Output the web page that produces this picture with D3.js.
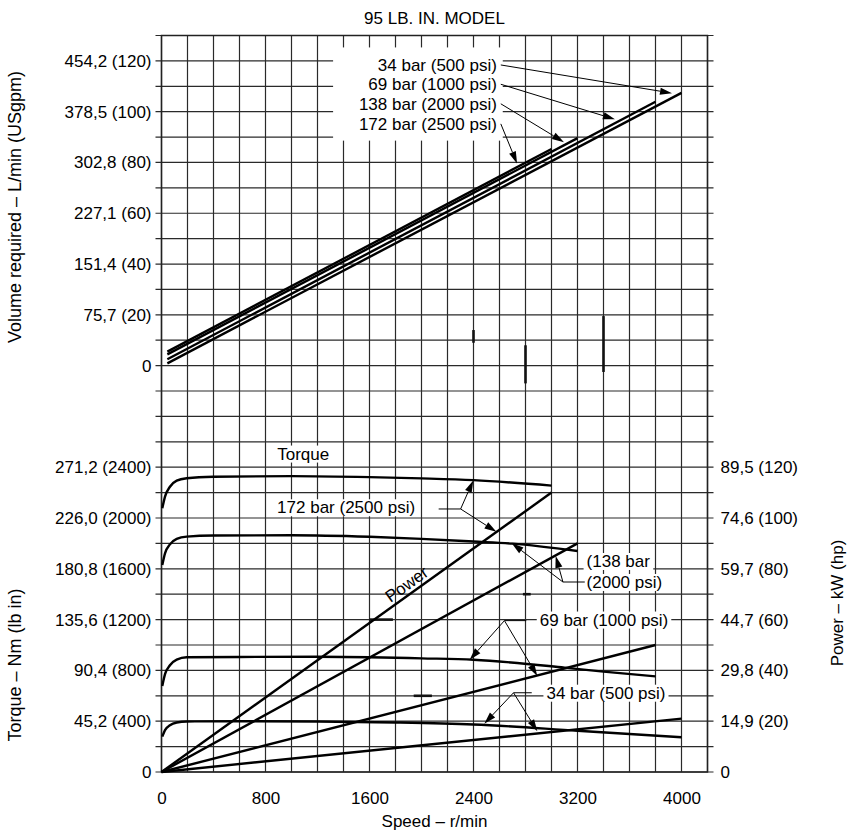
<!DOCTYPE html>
<html>
<head>
<meta charset="utf-8">
<script src="https://cdn.jsdelivr.net/npm/d3@7"></script>
<style>
  body { margin: 0; background: #fff; }
  text { font-family: "Liberation Sans", Arial, sans-serif; fill: #000; }
</style>
</head>
<body>
<svg id="chart" width="852" height="836"></svg>
<script>
// ---- data ----
const speedTicks = [0, 800, 1600, 2400, 3200, 4000];
const volTicks = [0, 20, 40, 60, 80, 100, 120];
const volLabels = ["0", "75,7 (20)", "151,4 (40)", "227,1 (60)", "302,8 (80)", "378,5 (100)", "454,2 (120)"];
const torqueTicks = [0, 400, 800, 1200, 1600, 2000, 2400];
const torqueLabels = ["0", "45,2 (400)", "90,4 (800)", "135,6 (1200)", "180,8 (1600)", "226,0 (2000)", "271,2 (2400)"];
const powerTicks = [0, 20, 40, 60, 80, 100, 120];
const powerLabels = ["0", "14,9 (20)", "29,8 (40)", "44,7 (60)", "59,7 (80)", "74,6 (100)", "89,5 (120)"];

// volume required (USgpm) vs speed (r/min)
const vol34 = [[45, 0.9], [4000, 107.4]];
const vol69 = [[45, 2.5], [3800, 103.9]];
const vol138 = [[45, 4.4], [3200, 89.6]];
const vol172 = [[45, 5.5], [3000, 85.3]];

// torque (lb in) vs speed
const tq172 = [[6, 2076], [27, 2168], [65, 2246], [117, 2294], [194, 2313], [400, 2325], [1000, 2330], [1600, 2322], [2000, 2312], [2400, 2298], [3000, 2255]];
const tq138 = [[6, 1630], [27, 1722], [65, 1792], [117, 1835], [194, 1853], [400, 1862], [1000, 1864], [1600, 1852], [2000, 1836], [2400, 1815], [2700, 1798], [3200, 1740]];
const tq69 = [[6, 677], [27, 770], [65, 840], [117, 885], [194, 903], [600, 906], [1200, 907], [1600, 904], [2000, 895], [2400, 884], [3100, 822], [3400, 790], [3800, 753]];
const tq34 = [[6, 278], [27, 330], [65, 368], [117, 390], [194, 398], [600, 400], [1200, 398], [1800, 390], [2400, 374], [3200, 325], [4000, 274]];

// power (hp) vs speed
const pw172 = [[0, 0], [3000, 110]];
const pw138 = [[0, 0], [3200, 90]];
const pw69 = [[0, 0], [3800, 50]];
const pw34 = [[0, 0], [4000, 21]];

// ---- layout ----
const svg = d3.select("#chart");
const x0 = 161.5, x1 = 707.5, yTop = 35.5, yMid = 365.6, yBot = 772;

const x = d3.scaleLinear().domain([0, 4200]).range([x0, x1]);
const yVol = d3.scaleLinear().domain([0, 130]).range([yMid, yTop]);
const yTq = d3.scaleLinear().domain([0, 3200]).range([yBot, yMid]);
const yPw = d3.scaleLinear().domain([0, 160]).range([yBot, yMid]);

// grid
const grid = svg.append("g").attr("stroke", "#2a2a2a").attr("stroke-width", 1.2);
grid.selectAll("line.v")
  .data(d3.range(0, 4201, 200))
  .enter().append("line")
    .attr("x1", d => x(d)).attr("x2", d => x(d))
    .attr("y1", yTop).attr("y2", yBot);
grid.selectAll("line.hv")
  .data(d3.range(10, 131, 10))
  .enter().append("line")
    .attr("x1", x0 - 6).attr("x2", x1 + 6)
    .attr("y1", d => yVol(d)).attr("y2", d => yVol(d));
grid.selectAll("line.ht")
  .data(d3.range(0, 3201, 200))
  .enter().append("line")
    .attr("x1", x0 - 6).attr("x2", x1 + 6)
    .attr("y1", d => yTq(d)).attr("y2", d => yTq(d));
svg.append("rect")
  .attr("x", x0).attr("y", yTop).attr("width", x1 - x0).attr("height", yBot - yTop)
  .attr("fill", "none").attr("stroke", "#222").attr("stroke-width", 1.5);

// a few heavier grid segments as in the print
const marks = svg.append("g").attr("stroke", "#111").attr("stroke-width", 2.6);
marks.append("line").attr("x1", x(2400)).attr("x2", x(2400)).attr("y1", yVol(14)).attr("y2", yVol(9));
marks.append("line").attr("x1", x(2800)).attr("x2", x(2800)).attr("y1", yVol(8)).attr("y2", yTq(3060));
marks.append("line").attr("x1", x(3400)).attr("x2", x(3400)).attr("y1", yVol(19.5)).attr("y2", yVol(-2.5));
marks.append("line").attr("x1", x(1600)).attr("x2", x(1780)).attr("y1", yTq(1200)).attr("y2", yTq(1200));
marks.append("line").attr("x1", x(1940)).attr("x2", x(2080)).attr("y1", yTq(600)).attr("y2", yTq(600));
marks.append("line").attr("x1", x(2780)).attr("x2", x(2840)).attr("y1", yTq(1400)).attr("y2", yTq(1400));

// white box behind the top label block
svg.append("rect")
  .attr("x", x(1320)).attr("y", yVol(125.3))
  .attr("width", x(2625) - x(1320)).attr("height", yVol(88.6) - yVol(125.3))
  .attr("fill", "#fff");

// label with a white halo box
function boxedText(tx, ty, str, anchor) {
  const t = svg.append("text")
    .attr("x", tx).attr("y", ty).attr("dy", "0.35em")
    .attr("font-size", 17).attr("text-anchor", anchor || "middle")
    .text(str);
  const b = t.node().getBBox();
  svg.insert("rect", "text")
    .attr("x", b.x - 3).attr("y", b.y + 1).attr("width", b.width + 6).attr("height", b.height - 2)
    .attr("fill", "#fff");
  return t;
}

// ---- curves ----
const lineVol = d3.line().x(d => x(d[0])).y(d => yVol(d[1]));
const lineTq = d3.line().x(d => x(d[0])).y(d => yTq(d[1])).curve(d3.curveMonotoneX);
const linePw = d3.line().x(d => x(d[0])).y(d => yPw(d[1]));

const curves = svg.append("g").attr("fill", "none").attr("stroke", "#000").attr("stroke-width", 2.4);
[vol34, vol69, vol138, vol172].forEach(s => curves.append("path").attr("d", lineVol(s)));
[tq172, tq138, tq69, tq34].forEach(s => curves.append("path").attr("d", lineTq(s)));
[pw172, pw138, pw69, pw34].forEach(s => curves.append("path").attr("d", linePw(s)));

// ---- labels and arrows ----
function arrow(sx, sy, tx, ty) {
  const ang = Math.atan2(ty - sy, tx - sx);
  const L = 12, w = 3.6;
  const bx = tx - L * Math.cos(ang), by = ty - L * Math.sin(ang);
  svg.append("line").attr("x1", sx).attr("y1", sy).attr("x2", bx).attr("y2", by)
    .attr("stroke", "#000").attr("stroke-width", 1);
  svg.append("path")
    .attr("d", "M" + tx + "," + ty +
      "L" + (bx + w * Math.sin(ang)) + "," + (by - w * Math.cos(ang)) +
      "L" + (bx - w * Math.sin(ang)) + "," + (by + w * Math.cos(ang)) + "Z")
    .attr("fill", "#000");
}
function leader(ax, ay, bx, by) {
  svg.append("line").attr("x1", ax).attr("y1", ay).attr("x2", bx).attr("y2", by)
    .attr("stroke", "#000").attr("stroke-width", 1);
}

// top block: volume curves
const topNames = ["34 bar (500 psi)", "69 bar (1000 psi)", "138 bar (2000 psi)", "172 bar (2500 psi)"];
const topY = [118.4, 110.8, 103.1, 95.2];
const topTips = [[3927, 107.3], [3488, 97.0], [3096, 88.0], [2735, 79.6]];
topNames.forEach((n, i) => {
  svg.append("text").attr("x", x(2580)).attr("y", yVol(topY[i])).attr("dy", "0.35em")
    .attr("font-size", 17).attr("text-anchor", "end").text(n);
  arrow(x(2610), yVol(topY[i]), x(topTips[i][0]), yVol(topTips[i][1]));
});

// lower block
boxedText(x(1090), yTq(2507), "Torque");

boxedText(x(1420), yTq(2084), "172 bar (2500 psi)");
leader(x(2132), yTq(2071), x(2301), yTq(2071));
arrow(x(2301), yTq(2071), x(2398), yTq(2296));
arrow(x(2301), yTq(2071), x(2576), yTq(1891));

boxedText(x(3270), yTq(1661), "(138 bar", "start");
boxedText(x(3270), yTq(1496), "(2000 psi)", "start");
leader(x(3256), yTq(1496), x(3088), yTq(1496));
arrow(x(3088), yTq(1496), x(2694), yTq(1802));
arrow(x(3088), yTq(1496), x(3032), yTq(1701));

boxedText(x(3404), yTq(1200), "69 bar (1000 psi)");
leader(x(2806), yTq(1192), x(2638), yTq(1192));
arrow(x(2638), yTq(1192), x(2371), yTq(884));
arrow(x(2638), yTq(1192), x(2891), yTq(756));

boxedText(x(3419), yTq(624), "34 bar (500 psi)");
leader(x(2848), yTq(624), x(2708), yTq(624));
arrow(x(2708), yTq(624), x(2483), yTq(380));
arrow(x(2708), yTq(624), x(2891), yTq(321));

// "Power" along the 172 bar power line
const pAng = Math.atan2(yPw(pw172[1][1]) - yPw(0), x(pw172[1][0]) - x(0)) * 180 / Math.PI;
const pAt = 1930;
svg.append("text")
  .attr("transform", "translate(" + x(pAt) + "," + yPw(pw172[1][1] * pAt / pw172[1][0]) + ") rotate(" + pAng + ")")
  .attr("dy", -4).attr("text-anchor", "middle").attr("font-size", 17).text("Power");

// ---- axes ----
function styleAxis(g) {
  g.select(".domain").remove();
  g.attr("font-size", 17).attr("font-family", "\"Liberation Sans\", Arial, sans-serif");
  g.selectAll("text").attr("fill", "#000");
}
svg.append("g").attr("transform", "translate(" + x0 + ",0)")
  .call(d3.axisLeft(yVol).tickValues(volTicks).tickFormat((d, i) => volLabels[i]).tickSize(0).tickPadding(10))
  .call(styleAxis);
svg.append("g").attr("transform", "translate(" + x0 + ",0)")
  .call(d3.axisLeft(yTq).tickValues(torqueTicks).tickFormat((d, i) => torqueLabels[i]).tickSize(0).tickPadding(10))
  .call(styleAxis);
svg.append("g").attr("transform", "translate(" + x1 + ",0)")
  .call(d3.axisRight(yPw).tickValues(powerTicks).tickFormat((d, i) => powerLabels[i]).tickSize(0).tickPadding(13))
  .call(styleAxis);
svg.append("g").attr("transform", "translate(0," + yBot + ")")
  .call(d3.axisBottom(x).tickValues(speedTicks).tickFormat(d3.format("d")).tickSize(0).tickPadding(20))
  .call(styleAxis);

// titles
svg.append("text").attr("x", (x0 + x1) / 2).attr("y", 24).attr("text-anchor", "middle")
  .attr("font-size", 17).text("95 LB. IN. MODEL");
svg.append("text").attr("x", (x0 + x1) / 2).attr("y", 827).attr("text-anchor", "middle")
  .attr("font-size", 17).text("Speed – r/min");
svg.append("text").attr("transform", "translate(21,207) rotate(-90)").attr("text-anchor", "middle")
  .attr("font-size", 18).text("Volume required – L/min (USgpm)");
svg.append("text").attr("transform", "translate(21,665) rotate(-90)").attr("text-anchor", "middle")
  .attr("font-size", 18).text("Torque – Nm (lb in)");
svg.append("text").attr("transform", "translate(843,603) rotate(-90)").attr("text-anchor", "middle")
  .attr("font-size", 17).text("Power – kW (hp)");
</script>
</body>
</html>
